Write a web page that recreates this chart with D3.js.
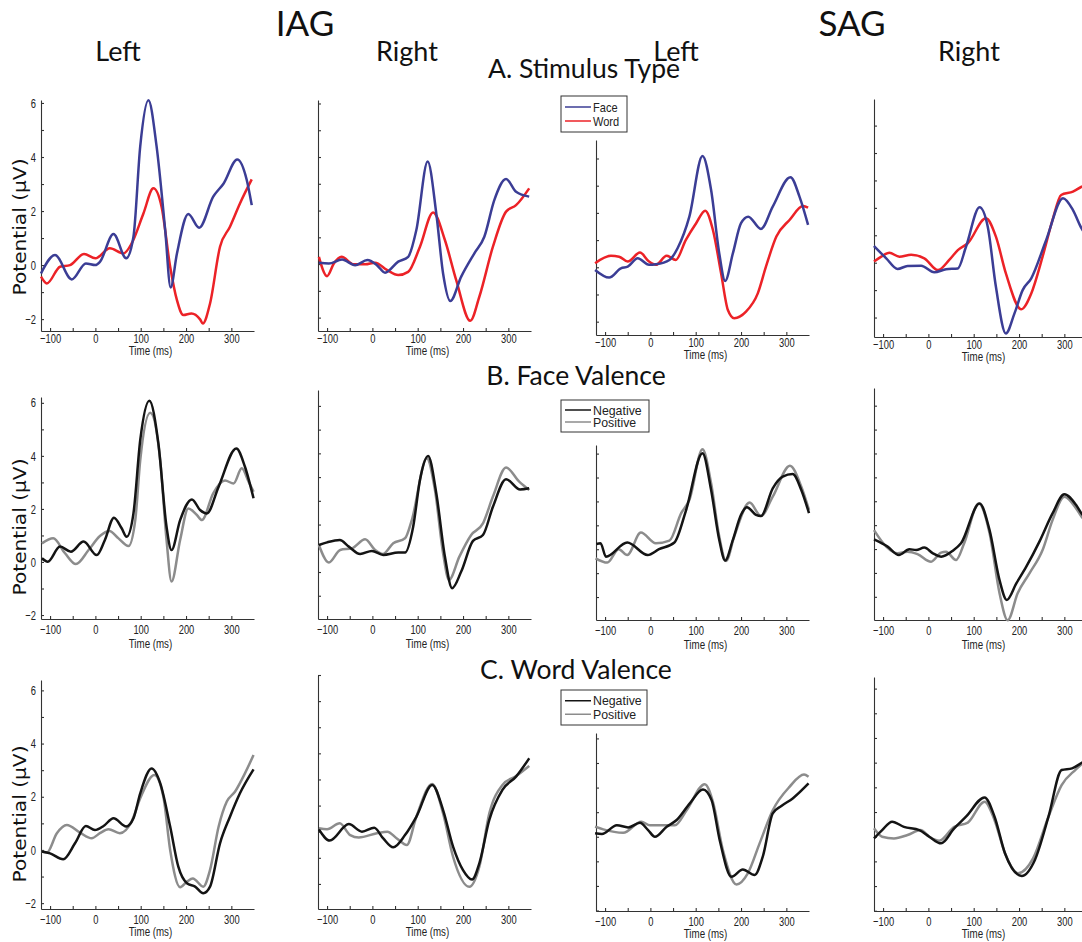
<!DOCTYPE html>
<html>
<head>
<meta charset="utf-8">
<script src="https://cdn.jsdelivr.net/npm/d3@7"></script>
<style>
  body { margin: 0; background: #fff; }
  svg { display: block; }
  .tick text, .xlab, .leg text { font-family: "Liberation Sans", Arial, sans-serif; fill: #222; }
  .title { font-family: Lato, "Open Sans", sans-serif; fill: #111; }
</style>
</head>
<body>
<div id="chart"></div>
<script>
// waveforms as [time (ms), potential (uV)] pairs
// row A: stimulus type (face / word)
const iagLeftFace = [[-120,-0.31],[-89,0.37],[-52,-0.53],[-21,0.06],[0,0],[10,0.12],[40,1.15],[68,0.25],[84,1.05],[99,4.4],[117,6.1],[135,4.4],[154,1.3],[166,-0.83],[180,0.43],[205,1.89],[229,1.38],[260,2.53],[283,3.02],[313,3.91],[334,3.15],[345,2.22]];
const iagLeftWord = [[-120,-0.43],[-107,-0.68],[-78,-0.06],[-56,0],[-25,0.41],[0,0.25],[32,0.62],[62,0.43],[80,0.8],[106,1.91],[128,2.84],[146,2.16],[165,-0.06],[180,-1.3],[194,-1.85],[212,-1.79],[231,-2.01],[237,-2.16],[253,-1.42],[275,0.68],[297,1.42],[319,2.28],[345,3.17]];
const iagRightFace = [[-118,0.05],[-96,0.02],[-67,0.17],[-38,-0.04],[-11,0.15],[10,-0.04],[28,-0.32],[57,0.09],[79,0.27],[97,1.27],[122,3.83],[141,1.89],[156,-0.35],[172,-1.38],[196,-0.47],[225,0.4],[247,1.02],[269,2.39],[295,3.18],[317,2.7],[346,2.52]];
const iagRightWord = [[-118,0.27],[-100,-0.45],[-85,0.02],[-68,0.27],[-41,-0.01],[-16,-0.01],[6,0.05],[32,-0.22],[57,-0.41],[79,-0.29],[105,0.65],[134,1.93],[160,0.9],[185,-0.6],[216,-2.12],[236,-1.22],[266,0.65],[295,1.96],[317,2.2],[346,2.83]];
const sagLeftFace = [[-122,-0.1],[-91,-0.38],[-65,-0.04],[-50,0.02],[-28,0.33],[-3,0.09],[12,0.11],[42,0.27],[60,0.7],[86,1.86],[115,4.09],[134,2.84],[152,0.51],[165,-0.5],[182,0.51],[200,1.62],[216,1.86],[244,1.41],[270,2.23],[309,3.31],[329,2.6],[348,1.56]];
const sagLeftWord = [[-122,0.15],[-87,0.42],[-69,0.39],[-50,0.21],[-23,0.54],[-3,0.21],[12,0.09],[36,0.42],[56,0.27],[78,1.0],[101,1.62],[121,2.08],[138,1.37],[156,-0.22],[171,-1.57],[185,-1.87],[211,-1.63],[237,-0.96],[255,0.02],[278,1.13],[307,1.74],[337,2.25],[348,2.19]];
const sagRightFace = [[-120,0.61],[-93,0.16],[-68,-0.23],[-46,-0.12],[-16,-0.11],[13,-0.35],[39,-0.24],[65,-0.21],[83,0.58],[113,2.02],[131,1.31],[149,-0.88],[171,-2.58],[190,-1.85],[208,-1.0],[227,-0.57],[260,0.83],[297,2.35],[319,1.92],[338,1.25],[350,0.95]];
const sagRightWord = [[-120,0.04],[-104,0.22],[-86,0.36],[-64,0.22],[-38,0.29],[-9,0.16],[21,-0.27],[46,0.1],[65,0.46],[87,0.71],[127,1.62],[149,0.95],[171,-0.39],[205,-1.7],[227,-1.12],[252,0.22],[274,1.56],[293,2.47],[319,2.59],[338,2.77],[350,2.85]];

// row B: face valence (negative / positive)
const iagLeftFaceNeg = [[-118,0.14],[-105,0.01],[-78,0.58],[-54,0.39],[-26,0.77],[3,0.26],[21,0.83],[41,1.67],[58,1.27],[69,0.95],[84,1.83],[99,4.6],[119,6.08],[139,4.47],[157,1.33],[168,0.45],[187,1.58],[213,2.36],[231,1.96],[246,1.83],[272,2.84],[311,4.28],[330,3.59],[349,2.4]];
const iagLeftFacePos = [[-118,0.7],[-93,0.89],[-67,0.33],[-43,-0.08],[-15,0.45],[10,0.98],[31,1.17],[51,0.89],[73,0.6],[88,1.58],[99,3.84],[121,5.63],[143,3.84],[157,0.83],[168,-0.74],[187,0.83],[205,2.02],[224,1.77],[235,1.58],[260,2.59],[286,3.07],[305,2.96],[323,3.53],[338,3.03],[349,2.65]];
const iagRightFaceNeg = [[-118,0.14],[-100,0.25],[-72,0.35],[-52,0.07],[-27,-0.24],[-1,-0.11],[24,-0.28],[57,-0.18],[72,-0.18],[90,0.91],[105,2.88],[123,3.89],[141,2.32],[160,-0.35],[176,-1.68],[196,-0.98],[222,0.31],[244,0.56],[266,1.75],[295,2.91],[326,2.48],[346,2.53]];
const iagRightFacePos = [[-118,0.14],[-96,-0.6],[-71,-0.07],[-45,0],[-16,0.38],[6,-0.07],[23,-0.24],[46,0.21],[72,0.42],[87,1.19],[120,3.79],[138,2.46],[156,-0.21],[169,-1.33],[192,-0.35],[218,0.56],[244,1.05],[266,2.18],[295,3.4],[324,2.81],[346,2.46]];
const sagLeftFaceNeg = [[-119,0.22],[-110,0.25],[-98,-0.31],[-51,0.28],[-6,-0.24],[19,0],[53,0.28],[79,1.65],[115,4.02],[134,2.48],[152,0.39],[165,-0.47],[182,0.39],[200,1.44],[213,1.76],[233,1.44],[244,1.39],[270,2.55],[292,3.04],[314,3.15],[333,2.48],[350,1.51]];
const sagLeftFacePos = [[-121,-0.38],[-95,-0.56],[-70,0],[-51,-0.24],[-21,0.7],[12,0.25],[42,0.36],[68,1.51],[86,2.06],[115,4.18],[134,2.76],[152,0.53],[167,-0.49],[185,0.53],[219,1.95],[244,1.39],[270,2.2],[308,3.49],[333,2.62],[350,1.65]];
const sagRightFaceNeg = [[-120,0.4],[-90,0.1],[-65,-0.25],[-42,-0.01],[-27,-0.04],[-9,0.06],[10,-0.18],[28,-0.32],[54,-0.07],[72,0.24],[113,1.91],[135,0.79],[157,-1.3],[173,-2.13],[194,-1.44],[216,-0.74],[245,0.31],[274,1.49],[300,2.29],[326,1.84],[338,1.49],[350,1.25]];
const sagRightFacePos = [[-120,0.79],[-93,0.1],[-68,-0.18],[-46,-0.11],[-24,-0.21],[6,-0.53],[28,-0.15],[39,-0.11],[61,-0.46],[79,0.24],[111,1.91],[135,0.66],[157,-1.85],[175,-2.98],[197,-1.85],[223,-1.02],[252,-0.04],[274,1.21],[300,2.19],[326,1.7],[338,1.35],[350,1.1]];

// row C: word valence (negative / positive)
const iagLeftWordNeg = [[-118,-0.06],[-100,-0.13],[-71,-0.35],[-45,0.25],[-21,0.9],[-1,0.75],[18,0.9],[40,1.19],[68,0.88],[84,1.19],[99,2.13],[124,3.06],[143,2.51],[165,0.88],[183,-0.63],[202,-1.25],[220,-1.38],[238,-1.63],[253,-1.38],[275,0.25],[297,1.25],[319,2.13],[349,3.03]];
const iagLeftWordPos = [[-118,-0.06],[-107,-0.1],[-85,0.63],[-63,0.94],[-34,0.65],[-8,0.44],[10,0.63],[29,0.78],[54,0.63],[80,1.07],[99,1.94],[130,2.82],[150,2.0],[165,0],[187,-1.4],[202,-1.19],[215,-1.07],[238,-1.38],[253,-0.75],[272,0.88],[290,1.82],[308,2.19],[330,2.88],[349,3.57]];
const iagRightWordNeg = [[-118,0.09],[-94,-0.34],[-52,0.29],[-23,0],[4,0.15],[24,-0.26],[46,-0.6],[72,-0.13],[97,0.57],[132,1.79],[156,0.83],[178,-0.57],[200,-1.47],[220,-1.83],[236,-1.21],[258,0.45],[287,1.6],[317,2.11],[346,2.81]];
const iagRightWordPos = [[-118,0.13],[-100,0.09],[-72,0.32],[-49,-0.13],[-30,-0.22],[10,-0.06],[33,0],[54,-0.26],[76,-0.51],[97,0.57],[132,1.83],[156,0.7],[178,-0.96],[214,-2.11],[236,-1.34],[258,0.7],[287,1.79],[317,2.13],[346,2.52]];
const sagLeftWordNeg = [[-122,0.14],[-107,0.11],[-74,0.47],[-49,0.38],[-23,0.57],[-5,0.27],[10,0],[36,0.41],[58,0.68],[87,1.36],[116,1.92],[135,1.49],[153,-0.14],[179,-1.63],[204,-1.33],[230,-1.56],[248,-0.81],[270,0.95],[289,1.25],[314,1.56],[349,2.17]];
const sagLeftWordPos = [[-122,0.41],[-104,0.3],[-60,0.16],[-20,0.61],[-1,0.47],[21,0.47],[54,0.47],[80,1.08],[120,2.14],[138,1.42],[160,-0.54],[190,-1.94],[215,-1.49],[241,-0.27],[270,1.08],[307,2.03],[339,2.53],[349,2.44]];
const sagRightWordNeg = [[-120,-0.07],[-102,0.27],[-80,0.61],[-54,0.4],[-20,0.27],[2,0],[28,-0.27],[57,0.34],[83,0.81],[124,1.59],[146,0.81],[169,-0.67],[206,-1.59],[235,-0.94],[265,0.81],[294,2.7],[317,2.77],[343,3.04],[350,3.1]];
const sagRightWordPos = [[-120,0.34],[-102,0],[-76,-0.07],[-46,0.07],[-17,0.27],[2,0],[24,-0.16],[57,0.4],[87,0.57],[124,1.42],[146,0.67],[169,-0.67],[198,-1.48],[231,-0.88],[265,0.81],[294,2.09],[324,2.7],[343,3.0],[350,3.05]];

const timeDomain = [-120, 350];
const timeTicks = [-100, -50, 0, 50, 100, 150, 200, 250, 300];
const regionTitles = ["IAG", "SAG"];
const sideTitles = ["Left", "Right", "Left", "Right"];
const rowTitles = ["A. Stimulus Type", "B. Face Valence", "C. Word Valence"];
const legendLabels = [["Face", "Word"], ["Negative", "Positive"], ["Negative", "Positive"]];
const rowColors = [["#3b3d95", "#ec2227"], ["#141414", "#8c8c8c"], ["#141414", "#8c8c8c"]];

const rowSeries = [
  [[iagLeftFace, iagLeftWord], [iagRightFace, iagRightWord], [sagLeftFace, sagLeftWord], [sagRightFace, sagRightWord]],
  [[iagLeftFaceNeg, iagLeftFacePos], [iagRightFaceNeg, iagRightFacePos], [sagLeftFaceNeg, sagLeftFacePos], [sagRightFaceNeg, sagRightFacePos]],
  [[iagLeftWordNeg, iagLeftWordPos], [iagRightWordNeg, iagRightWordPos], [sagLeftWordNeg, sagLeftWordPos], [sagRightWordNeg, sagRightWordPos]]
];

// layout of each axes box (pixels) and its y range
let w = 1082, h = 942;
let colLeft = [41, 318, 596, 874];
let plotW = 213;
let boxes = [
  [{top:100,bottom:331,lo:-2.44,hi:6.11},{top:100,bottom:331,lo:-2.5,hi:6.13},{top:140,bottom:335,lo:-2.49,hi:4.68},{top:99,bottom:337,lo:-2.71,hi:5.97}],
  [{top:397,bottom:619,lo:-2.15,hi:6.22},{top:390,bottom:619,lo:-2.98,hi:6.67},{top:445,bottom:620,lo:-2.96,hi:4.36},{top:388,bottom:620,lo:-2.97,hi:6.74}],
  [{top:680,bottom:909,lo:-2.22,hi:6.39},{top:675,bottom:909,lo:-2.96,hi:6.0},{top:733,bottom:911,lo:-3.02,hi:4.22},{top:677,bottom:911,lo:-3.01,hi:6.47}]
];
let tickPad = [3, 6, 6];
let xlabOffset = [24, 29, 27];
let ylabCenter = [227, 527, 814];
let rowTitleX = [584, 576, 576];
let legendBox = [{x:561,y:96,w:66,h:36},{x:561,y:400,w:88,h:32},{x:561,y:690,w:86,h:35}];
let squeeze = 0.72;   // condensed look of the tick labels

let svg = d3.select("#chart")
  .append("svg")
  .attr("width", w)
  .attr("height", h);

// titles
svg.selectAll("text.region")
  .data(regionTitles)
  .join("text")
  .attr("class", "title region")
  .attr("x", (d, i) => [305, 852][i])
  .attr("y", 36)
  .attr("text-anchor", "middle")
  .attr("font-size", 35)
  .text(d => d);

svg.selectAll("text.side")
  .data(sideTitles)
  .join("text")
  .attr("class", "title side")
  .attr("x", (d, i) => [118, 407, 676, 969][i])
  .attr("y", 61)
  .attr("text-anchor", "middle")
  .attr("font-size", 27)
  .text(d => d);

svg.selectAll("text.rowtitle")
  .data(rowTitles)
  .join("text")
  .attr("class", "title rowtitle")
  .attr("x", (d, i) => rowTitleX[i])
  .attr("y", (d, i) => [78, 385, 679][i])
  .attr("text-anchor", "middle")
  .attr("font-size", 26.5)
  .text(d => d);

let fmt = d3.format("d");

rowSeries.forEach((row, r) => {
  row.forEach((series, c) => {
    let b = boxes[r][c];
    let x = d3.scaleLinear().domain(timeDomain).range([colLeft[c], colLeft[c] + plotW]);
    let y = d3.scaleLinear().domain([b.lo, b.hi]).range([b.bottom, b.top]);
    let g = svg.append("g");

    // x axis, ticks pointing inward
    let xAxis = d3.axisBottom(x)
      .tickValues(timeTicks)
      .tickSizeInner(-3)
      .tickSizeOuter(0)
      .tickPadding(tickPad[r])
      .tickFormat(d => d % 100 === 0 ? fmt(d) : "");
    g.append("g")
      .attr("transform", `translate(0,${b.bottom})`)
      .call(xAxis)
      .call(a => a.selectAll("text")
        .attr("font-size", 13)
        .attr("transform", `scale(${squeeze},1)`));

    // y axis, labels only on the leftmost column
    let yTicks = d3.range(Math.ceil(b.lo), Math.floor(b.hi) + 1);
    let yAxis = d3.axisLeft(y)
      .tickValues(yTicks)
      .tickSizeInner(-3)
      .tickSizeOuter(0)
      .tickPadding(5)
      .tickFormat(d => (c === 0 && d % 2 === 0) ? fmt(d) : "");
    g.append("g")
      .attr("transform", `translate(${colLeft[c]},0)`)
      .call(yAxis)
      .call(a => a.selectAll("text")
        .attr("font-size", 13)
        .attr("x", -5 / squeeze)
        .attr("transform", `scale(${squeeze},1)`));

    g.selectAll(".domain, .tick line")
      .attr("stroke", "#333")
      .attr("stroke-width", 1.1);

    g.append("text")
      .attr("class", "xlab")
      .attr("transform", `translate(${colLeft[c] + plotW / 2 + 3},${b.bottom + xlabOffset[r]}) scale(0.75,1)`)
      .attr("text-anchor", "middle")
      .attr("font-size", 13)
      .text("Time (ms)");

    if (c === 0) {
      g.append("text")
        .attr("transform", `translate(26,${ylabCenter[r]}) rotate(-90)`)
        .attr("text-anchor", "middle")
        .attr("font-family", "'DejaVu Sans', sans-serif")
        .attr("font-size", 17)
        .attr("textLength", 137)
        .attr("lengthAdjust", "spacingAndGlyphs")
        .attr("fill", "#111")
        .text("Potential (\u03bcV)");
    }

    let line = d3.line()
      .x(d => x(d[0]))
      .y(d => y(d[1]))
      .curve(d3.curveMonotoneX);

    // second series drawn first so the first sits on top, like the figure
    g.selectAll("path.wave")
      .data(series.slice().reverse())
      .join("path")
      .attr("class", "wave")
      .attr("d", line)
      .attr("fill", "none")
      .attr("stroke", (d, i) => rowColors[r][1 - i])
      .attr("stroke-width", 2.5)
      .attr("stroke-linejoin", "round");
  });

  // legend
  let lb = legendBox[r];
  let leg = svg.append("g").attr("class", "leg");
  leg.append("rect")
    .attr("x", lb.x).attr("y", lb.y)
    .attr("width", lb.w).attr("height", lb.h)
    .attr("fill", "#fff")
    .attr("stroke", "#333")
    .attr("stroke-width", 1);
  let step = (lb.h - 8) / 2;
  let legScale = r === 0 ? 0.85 : 0.95;
  legendLabels[r].forEach((lab, i) => {
    let ly = lb.y + 4 + step * (i + 0.5);
    leg.append("line")
      .attr("x1", lb.x + 4).attr("x2", lb.x + 30)
      .attr("y1", ly).attr("y2", ly)
      .attr("stroke", rowColors[r][i])
      .attr("stroke-width", 1.5);
    leg.append("text")
      .attr("transform", `translate(${lb.x + 32},${ly + 4.5}) scale(${legScale},1)`)
      .attr("font-size", 13)
      .text(lab);
  });
});
</script>
</body>
</html>
